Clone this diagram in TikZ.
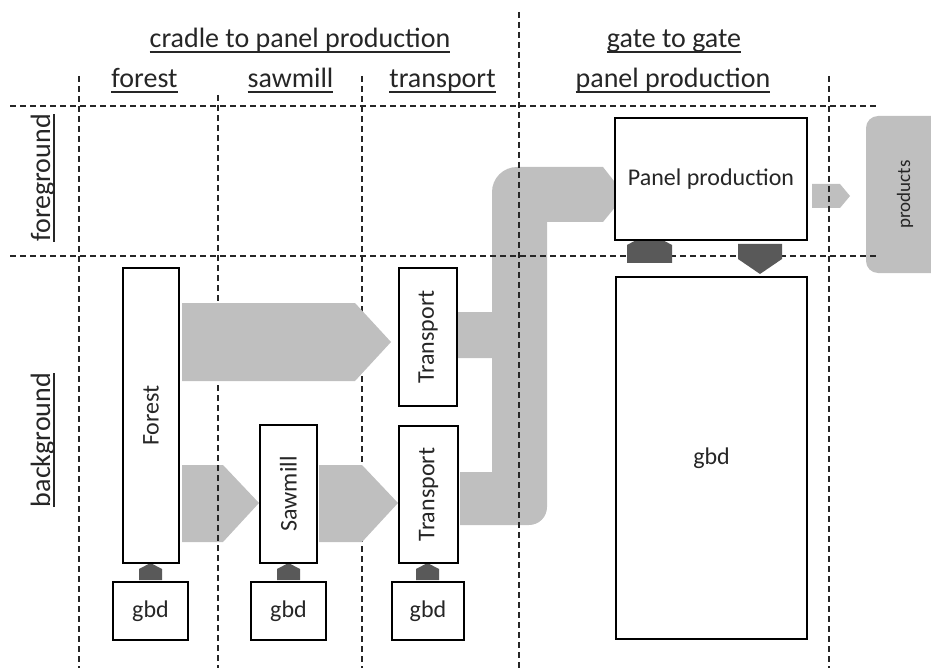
\documentclass[tikz,border=0pt]{standalone}
\usepackage{fontspec}
\setmainfont{Carlito}
\definecolor{flow}{RGB}{191,191,191}
\definecolor{darkarr}{RGB}{89,89,89}
\definecolor{ink}{RGB}{38,38,38}
\newcommand{\myul}[1]{\setbox0=\hbox{#1}\rlap{\rule[-0.17em]{\wd0}{0.055em}}\box0}
\tikzset{
  gridline/.style={draw=ink, line width=1.5pt, dash pattern=on 6pt off 4pt},
  box/.style={draw=black, line width=1.3pt, fill=white, inner sep=0pt, text=ink, font=\fontsize{24}{28}\selectfont},
  head/.style={inner sep=0pt, anchor=base, text=ink, font=\fontsize{28}{32}\selectfont},
  flowfill/.style={fill=flow, draw=none},
  darkfill/.style={fill=darkarr, draw=none}
}
\begin{document}
\begin{tikzpicture}[x=1pt, y=-1pt]
\useasboundingbox (0,0) rectangle (931,668);
\begin{scope}
\clip (0,0) rectangle (931,668);
% big flow and non-covering flows (below grid)
\fill[flowfill] (457,312) -- (492,312) -- (492,192) .. controls (492,178.2) and (503.2,167) .. (517,167)
  -- (603,167) -- (625,195) -- (603,222) -- (547,222) -- (547,507)
  .. controls (547,517) and (539,525) .. (529,525) -- (460,525) -- (460,472) -- (492,472)
  -- (492,358) -- (457,358) -- cycle;
\fill[flowfill] (182,465) -- (223,465) -- (259,503) -- (223,542) -- (182,542) -- cycle;
\fill[flowfill] (812,184) -- (840,184) -- (850,196) -- (840,208) -- (812,208) -- cycle;
% products
\node[flowfill, rotate=90, rounded corners=12pt, minimum width=157pt, minimum height=78pt, inner sep=0pt,
  text=ink, font=\fontsize{19}{22}\selectfont] (products) at (905,194.5) {products};
% grid
\draw[gridline] (10,106) -- (877,106);
\draw[gridline] (10,256) -- (877,256);
\draw[gridline] (79,76) -- (79,668);
\draw[gridline] (218,95) -- (218,668);
\draw[gridline] (362,76) -- (362,668);
\draw[gridline] (519,12) -- (519,668);
\draw[gridline] (829,76) -- (829,668);
% flows covering grid
\fill[flowfill] (182,303) -- (355,303) -- (391,342) -- (355,381) -- (182,381) -- cycle;
\fill[flowfill] (319,465) -- (362,465) -- (398,503) -- (362,542) -- (319,542) -- cycle;
% small dark arrows
\fill[darkarr] (139,580) -- (139,569) -- (150.5,563) -- (162,569) -- (162,580) -- cycle;
\fill[darkarr] (277,580) -- (277,569) -- (288.5,563) -- (300,569) -- (300,580) -- cycle;
\fill[darkarr] (416,580) -- (416,569) -- (427.5,563) -- (439,569) -- (439,580) -- cycle;
\fill[darkarr] (627,263) -- (627,245) -- (649.5,233) -- (672,245) -- (672,263) -- cycle;
\fill[darkarr] (738,244) -- (738,259) -- (760,274) -- (782,259) -- (782,244) -- cycle;
\end{scope}
% boxes
\node[box, rotate=90, minimum width=295pt, minimum height=56pt] (forest) at (151,415.5) {Forest};
\node[box, minimum width=75pt, minimum height=58pt] (gbd1) at (150.5,611) {gbd};
\node[box, rotate=90, minimum width=138pt, minimum height=57pt] (sawmill) at (288.5,494) {Sawmill};
\node[box, minimum width=75pt, minimum height=58pt] (gbd2) at (288.5,611) {gbd};
\node[box, rotate=90, minimum width=138pt, minimum height=58pt] (trup) at (428,337) {Transport};
\node[box, rotate=90, minimum width=137pt, minimum height=59pt] (trlow) at (428.5,494.5) {Transport};
\node[box, minimum width=72pt, minimum height=58pt] (gbd3) at (428,611) {gbd};
\node[box, minimum width=192pt, minimum height=122pt] (panel) at (711,179) {Panel production};
\node[box, minimum width=191pt, minimum height=362pt] (gbdbig) at (711.5,458) {gbd};
% headings
\node[head] (h1) at (300,48) {\myul{cradle to panel production}};
\node[head] (h2) at (674,48) {\myul{gate to gate}};
\node[head] (h3) at (144.5,88) {\myul{forest}};
\node[head] (h4) at (290.5,88) {\myul{sawmill}};
\node[head] (h5) at (442.5,88) {\myul{transport}};
\node[head] (h6) at (673,88) {\myul{panel production}};
\node[head, rotate=90] (fg) at (50,178) {\myul{foreground}};
\node[head, rotate=90] (bg) at (50,440) {\myul{background}};
\end{tikzpicture}
\end{document}
